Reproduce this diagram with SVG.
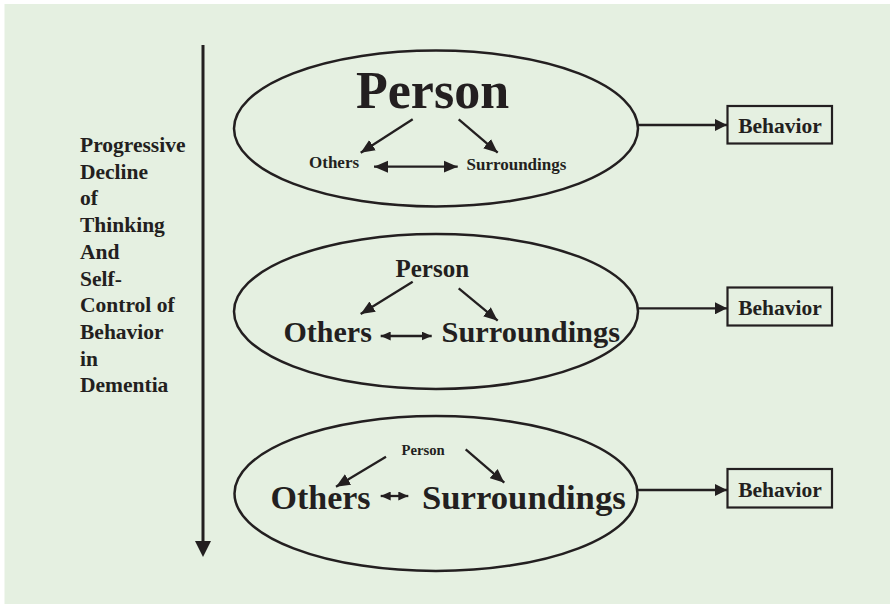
<svg xmlns="http://www.w3.org/2000/svg" width="890" height="607" viewBox="0 0 890 607">
<defs>
<style>
text{font-family:"Liberation Serif","Times New Roman",serif;font-weight:bold;fill:#231f20}
.el{fill:none;stroke:#231f20;stroke-width:2.5}
.ln{fill:none;stroke:#231f20;stroke-width:2.3}
.box{fill:none;stroke:#231f20;stroke-width:2.2}
</style>
<marker id="ah" markerUnits="userSpaceOnUse" markerWidth="15" markerHeight="13" refX="14" refY="6" orient="auto-start-reverse" viewBox="0 0 15 12">
<path d="M0,0 L14,6 L0,12 z" fill="#231f20"/>
</marker>
<marker id="ahb" markerUnits="userSpaceOnUse" markerWidth="13" markerHeight="12" refX="12" refY="6" orient="auto-start-reverse" viewBox="0 0 13 12">
<path d="M0,0 L12,6 L0,12 z" fill="#231f20"/>
</marker>
<marker id="ahs" markerUnits="userSpaceOnUse" markerWidth="11" markerHeight="9" refX="10" refY="4.5" orient="auto-start-reverse" viewBox="0 0 11 9">
<path d="M0,0 L10,4.5 L0,9 z" fill="#231f20"/>
</marker>
</defs>
<rect x="0" y="0" width="890" height="607" fill="#ffffff"/>
<rect x="4.5" y="4" width="886" height="600" fill="#e5f0e1"/>

<g id="timeline">
<line x1="203" y1="45" x2="203" y2="543" stroke="#231f20" stroke-width="3"/>
<polygon points="195,541 211,541 203,557" fill="#231f20"/>
<text font-size="21.5">
<tspan x="80" y="152">Progressive</tspan>
<tspan x="80" y="178.7">Decline</tspan>
<tspan x="80" y="205.4">of</tspan>
<tspan x="80" y="232.1">Thinking</tspan>
<tspan x="80" y="258.8">And</tspan>
<tspan x="80" y="285.5">Self-</tspan>
<tspan x="80" y="312.2">Control of</tspan>
<tspan x="80" y="338.9">Behavior</tspan>
<tspan x="80" y="365.6">in</tspan>
<tspan x="80" y="392.3">Dementia</tspan>
</text>
</g>

<g id="stage1">
<ellipse class="el" cx="436" cy="128.5" rx="202" ry="78"/>
<text x="356" y="108" font-size="52">Person</text>
<text x="309" y="168" font-size="17">Others</text>
<text x="466.5" y="169.5" font-size="17">Surroundings</text>
</g>

<g id="stage2">
<ellipse class="el" cx="436" cy="311.5" rx="202" ry="77.5"/>
<text x="395.5" y="276.5" font-size="25">Person</text>
<text x="283.5" y="341.5" font-size="30">Others</text>
<text x="441.5" y="341.5" font-size="30.4">Surroundings</text>
</g>

<g id="stage3">
<ellipse class="el" cx="436" cy="493.5" rx="201.5" ry="77.5"/>
<text x="401.5" y="455" font-size="14.7">Person</text>
<text x="270.5" y="508.5" font-size="34">Others</text>
<text x="422" y="508.5" font-size="34.7">Surroundings</text>
</g>

<g id="behavior1">
<rect class="box" x="727.5" y="106" width="104.5" height="37.5"/>
<text x="780" y="132.7" font-size="21.5" text-anchor="middle">Behavior</text>
</g>
<g id="behavior2">
<rect class="box" x="727.5" y="287.5" width="104.5" height="38"/>
<text x="780" y="315" font-size="21.5" text-anchor="middle">Behavior</text>
</g>
<g id="behavior3">
<rect class="box" x="727.5" y="469" width="104.5" height="38.5"/>
<text x="780" y="496.7" font-size="21.5" text-anchor="middle">Behavior</text>
</g>

<g id="connectors">
<line class="ln" x1="412.7" y1="119.3" x2="360.7" y2="152.7" marker-end="url(#ah)"/>
<line class="ln" x1="458.7" y1="119.3" x2="497.7" y2="152.7" marker-end="url(#ah)"/>
<line class="ln" x1="374" y1="166.7" x2="457.7" y2="166.7" marker-start="url(#ah)" marker-end="url(#ah)"/>
<line class="ln" x1="638" y1="125" x2="727" y2="125" marker-end="url(#ahb)"/>

<line class="ln" x1="412.7" y1="281.7" x2="360.7" y2="314" marker-end="url(#ah)"/>
<line class="ln" x1="458.7" y1="288.3" x2="497.7" y2="320.7" marker-end="url(#ah)"/>
<line class="ln" x1="380.7" y1="336" x2="431.7" y2="336" marker-start="url(#ahs)" marker-end="url(#ahs)"/>
<line class="ln" x1="638" y1="308.3" x2="727" y2="308.3" marker-end="url(#ahb)"/>

<line class="ln" x1="386" y1="456.7" x2="336" y2="486.7" marker-end="url(#ah)"/>
<line class="ln" x1="465.7" y1="449.3" x2="504.3" y2="482.7" marker-end="url(#ah)"/>
<line class="ln" x1="380.7" y1="496" x2="408.3" y2="496" marker-start="url(#ahs)" marker-end="url(#ahs)"/>
<line class="ln" x1="637.5" y1="490" x2="727" y2="490" marker-end="url(#ahb)"/>
</g>
</svg>
